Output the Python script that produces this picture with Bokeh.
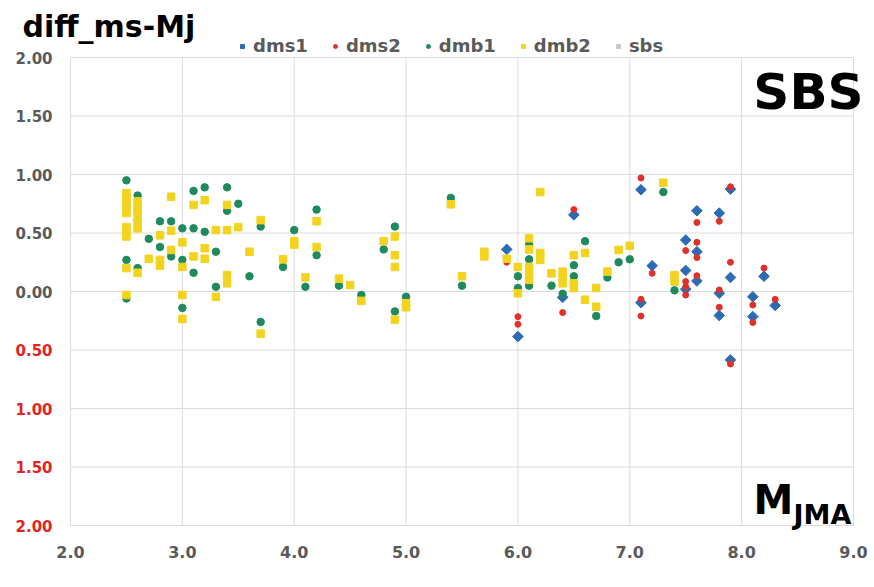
import math
from bokeh.plotting import figure
from bokeh.models import (Range1d, FixedTicker, Label, Legend, LegendItem, CustomJSTickFormatter)
from bokeh.embed import file_html
from bokeh.resources import INLINE
from bokeh.core.properties import value

FONT = "DejaVu Sans"

# ---------------- data ----------------
x_ticks = [2.0, 3.0, 4.0, 5.0, 6.0, 7.0, 8.0, 9.0]
y_pos_ticks = [0.0, 0.5, 1.0, 1.5, 2.0]
y_pos_labels = ["0.00", "0.50", "1.00", "1.50", "2.00"]
y_neg_ticks = [-0.5, -1.0, -1.5, -2.0]
y_neg_labels = ["0.50", "1.00", "1.50", "2.00"]

dms1_x = [5.9, 6.0, 6.4, 6.5, 7.1, 7.1, 7.2, 7.5, 7.5, 7.5, 7.6, 7.6, 7.6,
          7.8, 7.8, 7.8, 7.9, 7.9, 7.9, 8.1, 8.1, 8.2, 8.3]
dms1_y = [0.36, -0.385, -0.05, 0.655, 0.87, -0.095, 0.22, 0.44, 0.18, 0.02, 0.69, 0.34, 0.09,
          0.67, -0.015, -0.205, 0.875, 0.12, -0.585, -0.045, -0.215, 0.13, -0.12]

dms2_x = [5.9, 6.0, 6.0, 6.4, 6.5, 7.1, 7.1, 7.1, 7.2, 7.5, 7.5, 7.5, 7.5,
          7.6, 7.6, 7.6, 7.6, 7.8, 7.8, 7.8, 7.9, 7.9, 7.9, 8.1, 8.1, 8.2, 8.3]
dms2_y = [0.25, -0.215, -0.28, -0.18, 0.70, 0.97, -0.067, -0.21, 0.155, 0.35, 0.085, 0.04, -0.03,
          0.59, 0.42, 0.29, 0.135, 0.60, 0.013, -0.135, 0.895, 0.25, -0.62, -0.115, -0.265, 0.20, -0.067]

dmb1_x = [2.5, 2.5, 2.5, 2.6, 2.6, 2.6, 2.7, 2.8, 2.8, 2.9, 2.9,
          3.0, 3.0, 3.0, 3.1, 3.1, 3.1, 3.2, 3.2, 3.3, 3.3, 3.4, 3.4,
          3.5, 3.6, 3.7, 3.7, 3.9, 4.0, 4.1, 4.2, 4.2, 4.4, 4.6, 4.8,
          4.9, 4.9, 5.0, 5.4, 5.5, 6.0, 6.0, 6.1, 6.1, 6.1, 6.3, 6.4,
          6.5, 6.5, 6.6, 6.7, 6.8, 6.9, 7.0, 7.3, 7.4]
dmb1_y = [0.95, 0.27, -0.06, 0.82, 0.61, 0.20, 0.45, 0.60, 0.38, 0.60, 0.30,
          0.54, 0.27, -0.14, 0.86, 0.54, 0.16, 0.89, 0.51, 0.34, 0.04, 0.89, 0.69,
          0.75, 0.13, 0.555, -0.26, 0.21, 0.525, 0.04, 0.70, 0.31, 0.05, -0.03, 0.36,
          0.555, -0.17, -0.045, 0.80, 0.05, 0.13, 0.03, 0.40, 0.275, 0.05, 0.05, -0.02,
          0.225, 0.13, 0.43, -0.21, 0.12, 0.25, 0.275, 0.85, 0.01]

dmb2_x = [2.5, 2.5, 2.5, 2.5, 2.5, 2.5, 2.5, 2.5, 2.5, 2.5,
          2.6, 2.6, 2.6, 2.6, 2.6, 2.6,
          2.7, 2.8, 2.8, 2.8, 2.9, 2.9, 2.9,
          3.0, 3.0, 3.0, 3.0, 3.1, 3.1, 3.2, 3.2, 3.2,
          3.3, 3.3, 3.4, 3.4, 3.4, 3.4, 3.5, 3.6, 3.7, 3.7,
          3.9, 4.0, 4.0, 4.1, 4.2, 4.2, 4.4, 4.5, 4.6, 4.8,
          4.9, 4.9, 4.9, 4.9, 5.0, 5.0, 5.4, 5.5, 5.7, 5.7, 5.9,
          6.0, 6.0, 6.1, 6.1, 6.1, 6.1, 6.1, 6.2, 6.2, 6.2, 6.3,
          6.4, 6.4, 6.4, 6.5, 6.5, 6.5, 6.6, 6.6, 6.7, 6.7,
          6.8, 6.9, 7.0, 7.3, 7.4, 7.4]
dmb2_y = [0.84, 0.80, 0.75, 0.71, 0.67, 0.55, 0.51, 0.47, 0.20, -0.03,
          0.77, 0.72, 0.67, 0.60, 0.54, 0.16,
          0.28, 0.48, 0.27, 0.22, 0.81, 0.52, 0.355,
          0.42, 0.21, -0.03, -0.235, 0.74, 0.30, 0.78, 0.37, 0.28,
          0.525, -0.045, 0.74, 0.525, 0.14, 0.07, 0.55, 0.34, 0.61, -0.36,
          0.275, 0.43, 0.40, 0.12, 0.60, 0.38, 0.11, 0.055, -0.08, 0.43,
          0.47, 0.31, 0.21, -0.24, -0.10, -0.135, 0.745, 0.13, 0.34, 0.30, 0.28,
          0.21, -0.015, 0.455, 0.36, 0.21, 0.15, 0.10, 0.85, 0.33, 0.27, 0.155,
          0.17, 0.12, 0.07, 0.31, 0.07, 0.03, 0.33, -0.07, 0.03, -0.13,
          0.17, 0.355, 0.39, 0.93, 0.14, 0.085]

# sbs: no visible points in the chart (missing values), only its legend entry
sbs_x = [float("nan")]
sbs_y = [float("nan")]

BLUE = "#2b6cb5"
RED = "#e0302a"
GREEN = "#1f8a5c"
YELLOW = "#f4d31f"
GRAY = "#c8c8c8"
GRID = "#dcdcdc"
LABEL_GRAY = "#5a5a5a"
LABEL_RED = "#e3231f"

# ---------------- layout geometry (pixels) ----------------
W, H = 874, 587
PLOT_L, PLOT_R, PLOT_T, PLOT_B = 70, 853, 57, 525   # data area in page pixels
FB = H - 45                                          # bottom of bokeh frame

x_lo, x_hi = x_ticks[0], x_ticks[-1]
y_lo, y_hi = y_neg_ticks[-1], y_pos_ticks[-1]
px_x = (PLOT_R - PLOT_L) / (x_hi - x_lo)
px_y = (PLOT_B - PLOT_T) / (y_hi - y_lo)
xr = Range1d(x_lo - PLOT_L / px_x, x_hi + (W - PLOT_R) / px_x)
yr = Range1d(y_lo - (FB - PLOT_B) / px_y, y_hi + PLOT_T / px_y)

p = figure(width=W, height=H, output_backend="svg", toolbar_location=None,
           x_range=xr, y_range=yr, y_axis_location=None,
           min_border_left=0, min_border_right=0, min_border_top=0,
           min_border_bottom=H - FB)
p.background_fill_color = "white"
p.border_fill_color = "white"
p.outline_line_color = None
p.grid.visible = False

ax = p.xaxis[0]
ax.axis_line_color = None
ax.major_tick_line_color = None
ax.minor_tick_line_color = None
ax.major_tick_out = 0
ax.major_tick_in = 0
ax.minor_tick_out = 0
ax.major_label_text_font = FONT
ax.major_label_text_font_style = "bold"
ax.major_label_text_color = LABEL_GRAY
ax.major_label_text_font_size = "16px"
ax.major_label_standoff = 3
ax.ticker = FixedTicker(ticks=x_ticks)
ax.formatter = CustomJSTickFormatter(code="return tick.toFixed(1);")

# grid lines drawn through the scales
y_all = y_pos_ticks + y_neg_ticks
p.segment(x0=[x_lo] * len(y_all), y0=y_all, x1=[x_hi] * len(y_all), y1=y_all,
          line_color=GRID, line_width=1)
p.segment(x0=x_ticks, y0=[y_lo] * len(x_ticks), x1=x_ticks, y1=[y_hi] * len(x_ticks),
          line_color=GRID, line_width=1)

# y tick labels (positive grey, negative red without sign)
p.text(x=[x_lo] * len(y_pos_ticks), y=y_pos_ticks, text=y_pos_labels, x_offset=-18,
       text_align="right", text_baseline="middle", text_font=value(FONT),
       text_font_style="bold", text_font_size="15px", text_color=LABEL_GRAY)
p.text(x=[x_lo] * len(y_neg_ticks), y=y_neg_ticks, text=y_neg_labels, x_offset=-18,
       text_align="right", text_baseline="middle", text_font=value(FONT),
       text_font_style="bold", text_font_size="15px", text_color=LABEL_RED)

# ---------------- series ----------------
r1 = p.scatter(dms1_x, dms1_y, marker="square", angle=math.pi / 4, size=7.5,
               fill_color=BLUE, line_color=BLUE)
r2 = p.scatter(dms2_x, dms2_y, marker="circle", size=6, fill_color=RED, line_color=RED)
r3 = p.scatter(dmb1_x, dmb1_y, marker="circle", size=7.5, fill_color=GREEN, line_color=GREEN)
r4 = p.scatter(dmb2_x, dmb2_y, marker="square", size=7.5, fill_color=YELLOW, line_color=YELLOW)
r5 = p.scatter(sbs_x, sbs_y, marker="square", size=6, fill_color=GRAY, line_color=GRAY)

legend = Legend(items=[LegendItem(label="dms1", renderers=[r1]),
                       LegendItem(label="dms2", renderers=[r2]),
                       LegendItem(label="dmb1", renderers=[r3]),
                       LegendItem(label="dmb2", renderers=[r4]),
                       LegendItem(label="sbs", renderers=[r5])],
                orientation="horizontal", location=(237, FB - 56))
legend.label_text_font = FONT
legend.label_text_font_style = "bold"
legend.label_text_font_size = "18px"
legend.label_text_color = LABEL_GRAY
legend.glyph_width = 10
legend.glyph_height = 20
legend.label_standoff = 6
legend.spacing = 22
legend.padding = 0
legend.margin = 0
legend.border_line_color = None
legend.background_fill_alpha = 0
p.add_layout(legend)

# ---------------- texts ----------------
p.add_layout(Label(x=22, y=FB - 26, x_units="screen", y_units="screen", text="diff_ms-Mj",
                   text_font=FONT, text_font_style="bold", text_font_size="30px",
                   text_color="black", text_align="left", text_baseline="alphabetic"))
p.add_layout(Label(x=863, y=FB - 91, x_units="screen", y_units="screen", text="SBS",
                   text_font=FONT, text_font_style="bold", text_font_size="50px",
                   text_color="black", text_align="right", text_baseline="alphabetic"))
p.add_layout(Label(x=753, y=FB - 499, x_units="screen", y_units="screen", text="M",
                   text_font=FONT, text_font_style="bold", text_font_size="40px",
                   text_color="black", text_align="left", text_baseline="alphabetic"))
p.add_layout(Label(x=793, y=FB - 514, x_units="screen", y_units="screen", text="JMA",
                   text_font=FONT, text_font_style="bold", text_font_size="27px",
                   text_color="black", text_align="left", text_baseline="alphabetic"))

open("out.html", "w").write(file_html(p, INLINE))
